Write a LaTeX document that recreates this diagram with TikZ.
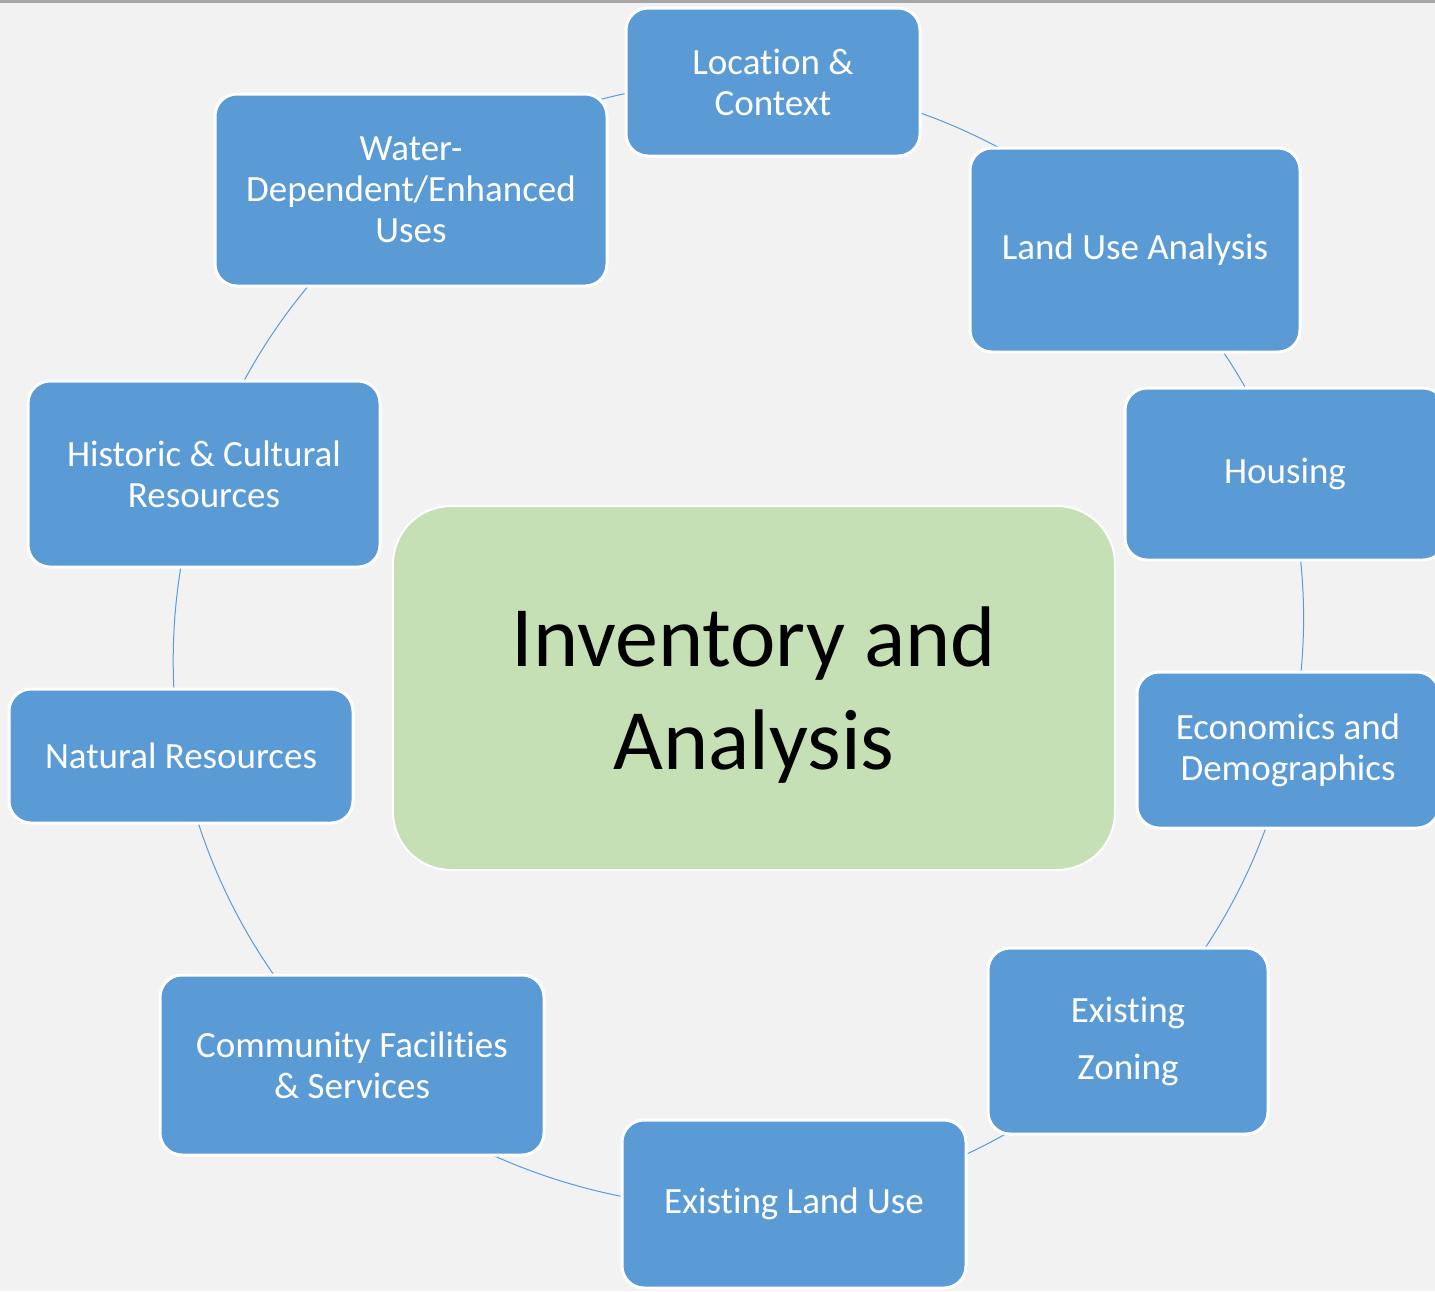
\documentclass[tikz,border=0pt]{standalone}
\usepackage{fontspec}
\setmainfont{Carlito}[Ligatures=NoCommon]
\usetikzlibrary{positioning,backgrounds}

\definecolor{pageback}{HTML}{F2F2F2}
\definecolor{topline}{HTML}{A6A6A6}
\definecolor{topicblue}{HTML}{5B9BD5}
\definecolor{coregreen}{HTML}{C5E0B4}

\begin{document}
\begin{tikzpicture}[x=0.5pt,y=-0.5pt]
    \tikzset{
      topic/.style={
        rectangle,
        rounded corners=11pt,
        fill=topicblue,
        draw=white,
        line width=1.5pt,
        text=white,
        align=center,
        inner sep=0pt,
        font=\fontsize{18.5}{20.5}\selectfont
      },
      core/.style={
        rectangle,
        rounded corners=29pt,
        fill=coregreen,
        draw=white,
        line width=1pt,
        inner sep=0pt
      },
      coretext/.style={
        align=center,
        inner sep=0pt,
        yshift=-3.5pt,
        font=\fontsize{43}{51.5}\selectfont
      },
      link/.style={
        draw=topicblue,
        line width=0.5pt,
        looseness=0.87
      }
    }

    %Page
    \useasboundingbox (0,0) rectangle (1435,1291);
    \clip (0,0) rectangle (1435,1291);

    %Centre node
    \node[core,minimum width=361pt,minimum height=182pt,
          label={[coretext]center:Inventory and\\Analysis}] at (754,688) (inv) {};

    %Top node
    \node[topic,minimum width=147pt,minimum height=74pt] at (773,82) (loc) {Location \&\\Context};
    %Top right node
    \node[topic,minimum width=165pt,minimum height=102pt] at (1135,250) (landuse) {Land Use Analysis};
    %Right nodes
    \node[topic,minimum width=160pt,minimum height=86pt] at (1285,474) (housing) {Housing};
    \node[topic,minimum width=151pt,minimum height=78pt] at (1288,750) (econ) {Economics and\\Demographics};
    %Bottom right node
    \node[topic,minimum width=140pt,minimum height=93pt] at (1128,1041) (zoning) {Existing\\[8pt]Zoning};
    %Bottom node
    \node[topic,minimum width=172pt,minimum height=84pt] at (794,1204) (existing) {Existing Land Use};
    %Bottom left node
    \node[topic,minimum width=192pt,minimum height=90pt] at (352,1065) (facilities) {Community Facilities\\\& Services};
    %Left nodes
    \node[topic,minimum width=172pt,minimum height=67pt] at (181,756) (natural) {Natural Resources};
    \node[topic,minimum width=176pt,minimum height=93pt] at (204,474) (historic) {Historic \& Cultural\\Resources};
    %Top left node
    \node[topic,minimum width=196pt,minimum height=96pt] at (411,190) (water) {Water-\\Dependent/Enhanced\\Uses};

    %Ring behind the boxes
    \begin{scope}[on background layer]
      \fill[pageback] (0,0) rectangle (1435,1291);
      \fill[topline] (0,0) rectangle (1435,3);
      \draw[link] (loc.center) to[bend left=21] (landuse.center);
      \draw[link] (landuse.center) to[bend left=14] (housing.center);
      \draw[link] (housing.center) to[bend left=14] (econ.center);
      \draw[link] (econ.center) to[bend left=17] (zoning.center);
      \draw[link] (zoning.center) to[bend left=19] (existing.center);
      \draw[link] (existing.center) to[bend left=24] (facilities.center);
      \draw[link] (facilities.center) to[bend left=18] (natural.center);
      \draw[link] (natural.center) to[bend left=14] (historic.center);
      \draw[link] (historic.center) to[bend left=18] (water.center);
      \draw[link] (water.center) to[bend left=20] (loc.center);
    \end{scope}
\end{tikzpicture}
\end{document}
